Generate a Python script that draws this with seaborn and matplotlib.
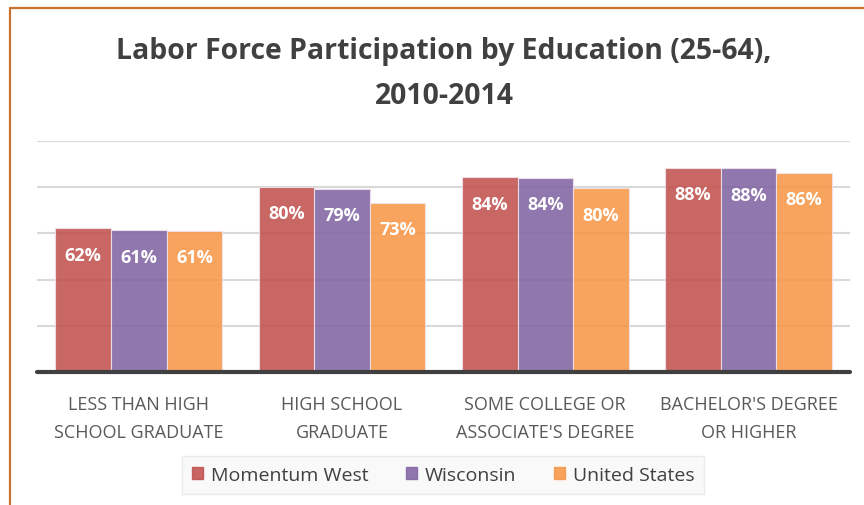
"""
Labor force participation by education (25-64), 2010-2014
Grouped bar chart: Momentum West vs Wisconsin vs United States
"""

import pandas as pd
import matplotlib
matplotlib.use("Agg")
import matplotlib.pyplot as plt
from matplotlib.lines import Line2D
import seaborn as sns

# Data
CATEGORIES = [
    "LESS THAN HIGH\nSCHOOL GRADUATE",
    "HIGH SCHOOL\nGRADUATE",
    "SOME COLLEGE OR\nASSOCIATE'S DEGREE",
    "BACHELOR'S DEGREE\nOR HIGHER",
]
REGIONS = ["Momentum West", "Wisconsin", "United States"]
MOMENTUM_WEST = [62.3, 80.2, 84.3, 88.4]
WISCONSIN = [61.4, 79.4, 84.0, 88.2]
UNITED_STATES = [61.1, 73.2, 79.6, 86.4]
Y_TICKS = [0, 20, 40, 60, 80, 100]

COLORS = ["#C0504D", "#8064A2", "#F79646"]

sns.set_style("white")
plt.rcParams["font.family"] = ["Open Sans", "DejaVu Sans"]

rows = []
for region, vals in zip(REGIONS, [MOMENTUM_WEST, WISCONSIN, UNITED_STATES]):
    for cat, v in zip(CATEGORIES, vals):
        rows.append({"category": cat, "region": region, "value": v})
df = pd.DataFrame(rows)

fig = plt.figure(figsize=(8.64, 5.06), dpi=100)
ax = fig.add_axes([0.043, 0.263, 0.941, 0.456])

sns.barplot(data=df, x="category", y="value", hue="region",
            order=CATEGORIES, hue_order=REGIONS, palette=COLORS,
            saturation=1, width=0.82, alpha=0.87,
            edgecolor="#efe4ea", linewidth=0.8,
            errorbar=None, ax=ax, zorder=2)

# value labels inside bars
for cont in ax.containers:
    for bar in cont:
        h = bar.get_height()
        ax.annotate(f"{h:.0f}%", (bar.get_x() + bar.get_width() / 2, h),
                    xytext=(0, -19), textcoords="offset points",
                    ha="center", va="center", color="white",
                    fontsize=13, fontweight="bold", zorder=4)

ax.set_ylim(0, 100)
ax.set_xlim(-0.5, 3.5)
ax.set_yticks(Y_TICKS)
ax.yaxis.grid(True, color="#d9d9d9", linewidth=1.5, zorder=0)
ax.set_axisbelow(True)
ax.tick_params(axis="y", left=False, labelleft=False)
ax.tick_params(axis="x", bottom=False, pad=13)
ax.set_xticks(range(len(CATEGORIES)))
ax.set_xticklabels(CATEGORIES, fontsize=13, color="#595959", linespacing=1.75)
ax.set_xlabel("")
ax.set_ylabel("")
for s in ax.spines.values():
    s.set_visible(False)
ax.axhline(0, color="#404040", linewidth=3, zorder=5, clip_on=False)

# title
fig.text(0.514, 0.898, "Labor Force Participation by Education (25-64),",
         ha="center", va="center", fontsize=20.4, fontweight="bold", color="#404040")
fig.text(0.514, 0.81, "2010-2014",
         ha="center", va="center", fontsize=20.4, fontweight="bold", color="#404040")

# legend
ax.get_legend().remove()
handles = [plt.Rectangle((0, 0), 1, 1, color=c, alpha=0.87) for c in COLORS]
leg = fig.legend(handles, REGIONS, loc="center", bbox_to_anchor=(0.513, 0.059),
                 ncol=3, fontsize=14, frameon=True, fancybox=False,
                 facecolor="#f8f8f8", edgecolor="#e6e6e6",
                 handlelength=0.6, handleheight=0.6, handletextpad=0.4,
                 columnspacing=1.9, borderpad=0.5, borderaxespad=0)
for t in leg.get_texts():
    t.set_color("#404040")

# orange frame on top and left
frame_col = "#C8732F"
fig.add_artist(Line2D([10 / 864, 1], [1 - 9 / 506, 1 - 9 / 506],
                      color=frame_col, linewidth=1.6, transform=fig.transFigure))
fig.add_artist(Line2D([10 / 864, 10 / 864], [0, 1 - 9 / 506],
                      color=frame_col, linewidth=1.6, transform=fig.transFigure))

fig.savefig("out.png", dpi=100)
plt.close(fig)
